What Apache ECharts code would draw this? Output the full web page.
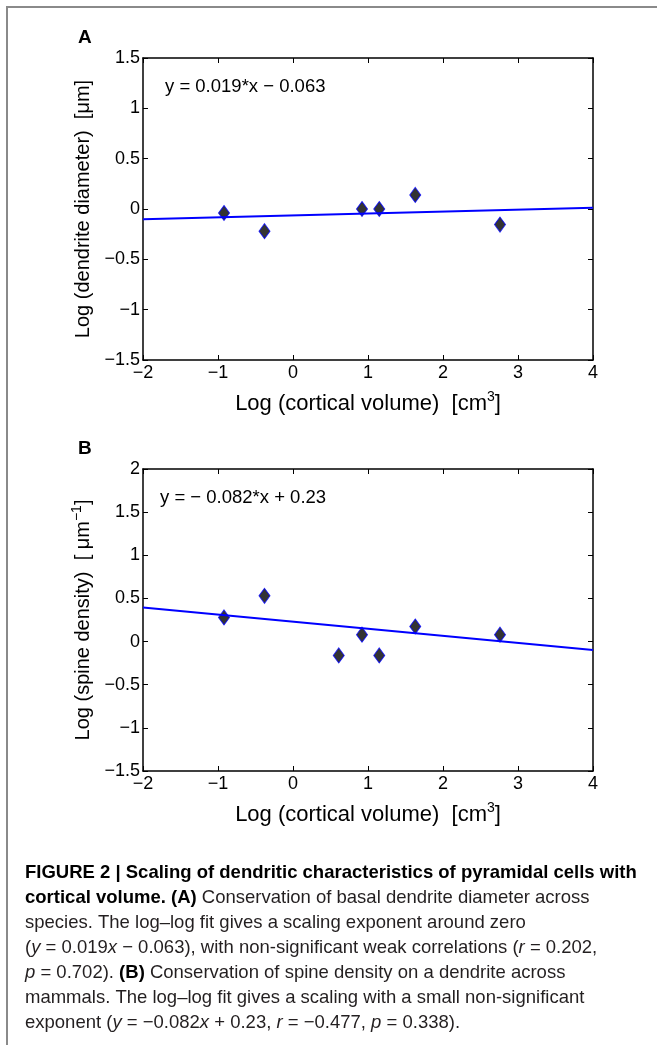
<!DOCTYPE html>
<html>
<head>
<meta charset="utf-8">
<script src="https://cdn.jsdelivr.net/npm/echarts@6/dist/echarts.min.js"></script>
<style>
  html, body { margin: 0; padding: 0; background: #fff; }
  #chart { width: 657px; height: 1045px; }
</style>
</head>
<body>
<div id="chart"></div>
<script>
// panel A : log cortical volume vs log dendrite diameter
var volA = [-0.92, -0.38, 0.92, 1.15, 1.63, 2.76];
var diamA = [-0.04, -0.22, 0.0, 0.0, 0.14, -0.155];
var fitA = [[-2, -0.101], [4, 0.013]];

// panel B : log cortical volume vs log spine density
var volB = [-0.92, -0.38, 0.61, 0.92, 1.15, 1.63, 2.76];
var densB = [0.28, 0.53, -0.16, 0.08, -0.16, 0.175, 0.08];
var fitB = [[-2, 0.394], [4, -0.098]];

var captionLines = [
  "{b|FIGURE 2 | Scaling of dendritic characteristics of pyramidal cells with}",
  "{b|cortical volume. (A)} Conservation of basal dendrite diameter across",
  "species. The log–log fit gives a scaling exponent around zero",
  "({i|y} = 0.019{i|x} − 0.063), with non-significant weak correlations ({i|r} = 0.202,",
  "{i|p} = 0.702). {b|(B)} Conservation of spine density on a dendrite across",
  "mammals. The log–log fit gives a scaling with a small non-significant",
  "exponent ({i|y} = −0.082{i|x} + 0.23, {i|r} = −0.477, {i|p} = 0.338)."
];

var FONT = "'Liberation Sans', Arial, sans-serif";
var CAPFONT = "'Liberation Sans Narrow', 'Liberation Sans', sans-serif";
var CAPSIZE = 18.5;

function zip(xs, ys) {
  return xs.map(function (x, i) { return [x, ys[i]]; });
}

function minusFmt(v) {
  return v < 0 ? '\u2212' + (-v) : String(v);
}

var supRich = {
  sup: { fontSize: 14, fontFamily: FONT, color: '#000', padding: [0, 0, 13, 0] }
};

function bottomX(gi, label) {
  return {
    gridIndex: gi, type: 'value', min: -2, max: 4, interval: 1, position: 'bottom',
    axisLine: { onZero: false, lineStyle: { color: '#000', width: 1.5 } },
    axisTick: { inside: true, length: 5, lineStyle: { color: '#000' } },
    axisLabel: { fontSize: 18, color: '#000', fontFamily: FONT, margin: 4, formatter: minusFmt },
    splitLine: { show: false },
    name: label, nameLocation: 'middle', nameGap: 30,
    nameTextStyle: { fontSize: 22, color: '#000', fontFamily: FONT, rich: supRich }
  };
}

function topX(gi) {
  return {
    gridIndex: gi, type: 'value', min: -2, max: 4, interval: 1, position: 'top',
    axisLine: { onZero: false, lineStyle: { color: '#000', width: 1.5 } },
    axisTick: { inside: true, length: 5, lineStyle: { color: '#000' } },
    axisLabel: { show: false }, splitLine: { show: false }
  };
}

function leftY(gi, min, max, label) {
  return {
    gridIndex: gi, type: 'value', min: min, max: max, interval: 0.5, position: 'left',
    axisLine: { onZero: false, lineStyle: { color: '#000', width: 1.5 } },
    axisTick: { inside: true, length: 5, lineStyle: { color: '#000' } },
    axisLabel: { fontSize: 18, color: '#000', fontFamily: FONT, margin: 3, formatter: minusFmt },
    splitLine: { show: false },
    name: label, nameLocation: 'middle', nameGap: 45,
    nameTextStyle: { fontSize: 20, color: '#000', fontFamily: FONT, rich: supRich }
  };
}

function rightY(gi, min, max) {
  return {
    gridIndex: gi, type: 'value', min: min, max: max, interval: 0.5, position: 'right',
    axisLine: { onZero: false, lineStyle: { color: '#000', width: 1.5 } },
    axisTick: { inside: true, length: 5, lineStyle: { color: '#000' } },
    axisLabel: { show: false }, splitLine: { show: false }
  };
}

function fitSeries(xi, yi, data) {
  return {
    type: 'line', xAxisIndex: xi, yAxisIndex: yi, data: data,
    showSymbol: false, silent: true,
    lineStyle: { color: '#0000ff', width: 2 }
  };
}

function pointSeries(xi, yi, data) {
  return {
    type: 'scatter', xAxisIndex: xi, yAxisIndex: yi, data: data,
    symbol: 'diamond', symbolSize: [11, 15],
    itemStyle: { color: '#000', borderColor: '#0000ff', borderWidth: 1 }
  };
}

var graphics = [
  { type: 'rect', shape: { x: 7, y: 7, width: 700, height: 1100 },
    style: { fill: 'none', stroke: '#8a8a8a', lineWidth: 2 } },
  { type: 'text', x: 78, y: 38, style: { text: 'A', font: "bold 19px " + FONT, fill: '#000', verticalAlign: 'middle' } },
  { type: 'text', x: 78, y: 449, style: { text: 'B', font: "bold 19px " + FONT, fill: '#000', verticalAlign: 'middle' } },
  { type: 'text', x: 165, y: 87, style: { text: 'y = 0.019*x \u2212 0.063', font: "18.5px " + FONT, fill: '#000', verticalAlign: 'middle' } },
  { type: 'text', x: 160, y: 498, style: { text: 'y = \u2212 0.082*x + 0.23', font: "18.5px " + FONT, fill: '#000', verticalAlign: 'middle' } }
];

captionLines.forEach(function (line, i) {
  graphics.push({
    type: 'text', x: 25, y: 873 + i * 25,
    style: {
      text: line, font: CAPSIZE + "px " + CAPFONT, fill: '#231f20', verticalAlign: 'middle',
      rich: {
        b: { fontWeight: 'bold', fontSize: CAPSIZE, fontFamily: CAPFONT, fill: '#000' },
        i: { fontStyle: 'italic', fontSize: CAPSIZE, fontFamily: CAPFONT, fill: '#231f20' }
      }
    }
  });
});

var option = {
  backgroundColor: '#fff',
  animation: false,
  grid: [
    { left: 143, top: 58, width: 450, height: 302 },
    { left: 143, top: 469, width: 450, height: 302 }
  ],
  xAxis: [
    bottomX(0, 'Log (cortical volume)  [cm{sup|3}]'),
    topX(0),
    bottomX(1, 'Log (cortical volume)  [cm{sup|3}]'),
    topX(1)
  ],
  yAxis: [
    leftY(0, -1.5, 1.5, 'Log (dendrite diameter)  [\u03bcm]'),
    rightY(0, -1.5, 1.5),
    leftY(1, -1.5, 2, 'Log (spine density)  [ \u03bcm{sup|\u22121}]'),
    rightY(1, -1.5, 2)
  ],
  series: [
    fitSeries(0, 0, fitA),
    pointSeries(0, 0, zip(volA, diamA)),
    fitSeries(2, 2, fitB),
    pointSeries(2, 2, zip(volB, densB))
  ],
  graphic: graphics
};

var chart = echarts.init(document.getElementById('chart'), null, { renderer: 'canvas' });
chart.setOption(option);
</script>
</body>
</html>
